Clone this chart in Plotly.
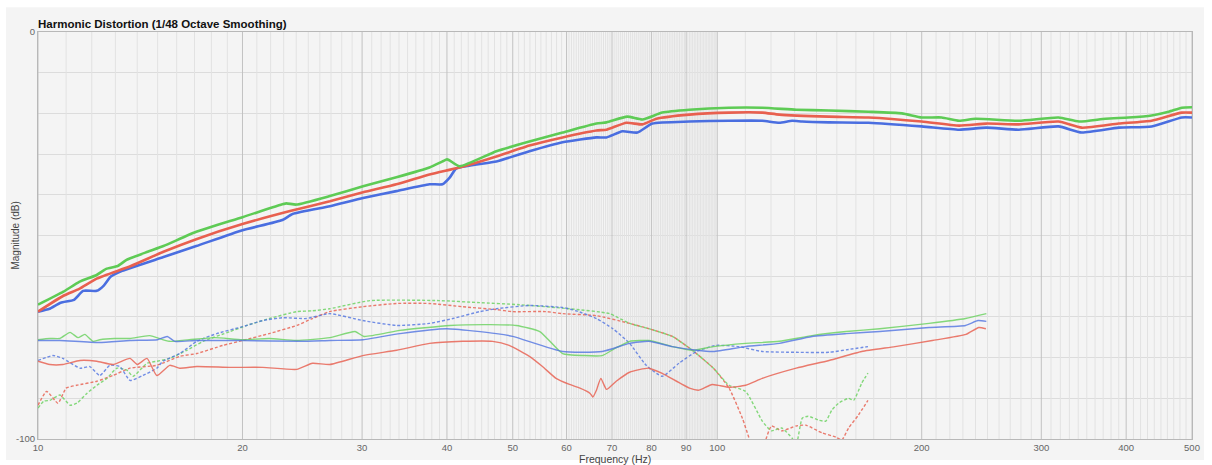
import plotly.graph_objects as go

# ---------------------------------------------------------------- data
chart_title = "Harmonic Distortion (1/48 Octave Smoothing)"
x_title = "Frequency (Hz)"
y_title = "Magnitude (dB)"
x_tick_vals = [10, 20, 30, 40, 50, 60, 70, 80, 90, 100, 200, 300, 400, 500]
x_tick_text = ["10", "20", "30", "40", "50", "60", "70", "80", "90", "100", "200", "300", "400", "500"]
y_tick_vals = [0, -10, -20, -30, -40, -50, -60, -70, -80, -90, -100]
y_tick_text = ["0", "", "", "", "", "", "", "", "", "", "-100"]

# Fundamentals (thick lines)
green_fund_hz = [10.0, 10.9, 11.5, 12.2, 12.6, 13.1, 13.5, 14.5, 15.3, 17.1, 20.0, 22.7, 23.2, 24.0, 26.9,
                 30.1, 33.7, 37.7, 39.4, 40.0, 40.4, 41.75, 47.3, 52.9, 59.2, 66.4, 68.7, 73.7, 77.6, 83.0,
                 91.0, 104, 116.5, 130.7, 146, 167, 187, 200, 214, 227, 240, 278, 318, 341, 373, 403,
                 436, 462, 483, 500]
green_fund_db = [-67.0, -63.8, -61.4, -59.7, -58.2, -57.5, -56.0, -54.0, -52.6, -49.1, -45.5, -42.5, -42.1, -42.4, -40.3,
                 -37.9, -35.7, -33.3, -31.8, -31.3, -31.6, -33.0, -29.3, -26.9, -24.7, -22.5, -22.2, -20.8, -21.5, -19.8,
                 -19.1, -18.6, -18.6, -19.1, -19.3, -19.6, -20.0, -21.0, -21.0, -21.8, -21.3, -21.8, -21.0, -22.0, -21.3, -21.0,
                 -20.5, -19.6, -18.6, -18.5]

red_fund_hz = [10.0, 10.9, 11.5, 12.2, 13.7, 15.3, 17.1, 20.0, 23.5, 26.9, 30.1, 33.7, 37.7, 40.0, 41.75,
               47.3, 52.9, 59.2, 66.4, 68.7, 73.5, 77.6, 81.4, 91.0, 104, 116.5, 123.4, 146, 167, 200,
               227, 249, 278, 318, 344, 390, 436, 483, 500]
red_fund_db = [-68.7, -64.8, -63.1, -60.6, -57.5, -54.0, -50.9, -47.2, -44.0, -41.6, -39.4, -37.4, -35.0, -34.0, -33.3,
               -30.6, -27.9, -25.9, -24.2, -24.0, -22.3, -22.7, -21.3, -20.3, -19.8, -19.8, -20.3, -20.8, -21.0, -22.0,
               -23.0, -22.5, -22.7, -22.0, -23.5, -22.5, -21.8, -19.8, -19.8]

blue_fund_hz = [10.0, 10.4, 10.8, 11.3, 11.65, 12.2, 12.5, 12.8, 13.3, 15.3, 17.1, 20.0, 22.9, 23.7, 26.9,
                30.1, 33.7, 37.7, 39.4, 40.4, 41.3, 47.3, 52.9, 59.2, 66.4, 68.7, 72.5, 76.3, 80.25, 91,
                104, 116.5, 123.4, 128.9, 133.4, 146, 167, 200, 227, 249, 278, 318, 344, 390, 436, 483, 500]
blue_fund_db = [-68.7, -68.0, -66.5, -65.8, -63.6, -63.6, -62.3, -60.1, -58.7, -55.3, -52.6, -48.7, -46.2, -44.7, -42.8,
                -40.8, -39.1, -37.4, -37.4, -35.7, -33.5, -31.8, -29.3, -27.1, -25.9, -25.9, -24.4, -24.7, -22.5, -22.0,
                -21.8, -21.8, -22.3, -21.8, -22.0, -22.2, -22.3, -23.2, -24.0, -23.5, -24.0, -23.2, -24.7, -23.5, -23.2,
                -21.0, -21.0]

# 2nd harmonic (thin solid)
green_h2_hz = [10.0, 10.41, 10.77, 11.15, 11.45, 11.72, 12.05, 12.33, 12.97, 13.66, 14.6, 15.6, 16.7, 18.2,
               20.0, 21.9, 24.0, 26.9, 29.3, 30.2, 34.1, 40.4, 46.3, 50.6, 54.8, 59.2, 63.7, 67.7, 70.6,
               74.3, 79.3, 85.9, 91.9, 98.7, 110.1, 123.4, 137.9, 154.9, 173.5, 205.0, 232, 249]
green_h2_db = [-75.6, -75.3, -75.3, -73.8, -75.1, -74.3, -76.0, -75.6, -75.3, -75.3, -74.6, -76.0, -75.6, -75.1,
               -75.6, -75.3, -75.8, -75.1, -73.6, -74.8, -73.3, -72.1, -71.9, -72.1, -73.6, -79.0, -79.5, -79.5, -77.8,
               -76.0, -75.8, -77.3, -78.2, -77.3, -76.5, -76.0, -74.6, -73.6, -72.9, -71.6, -70.4, -69.2]

blue_h2_hz = [10.0, 10.77, 12.3, 13.66, 15.0, 15.5, 15.9, 17.1, 20.0, 24.3, 26.9, 30.1, 34.1, 39.95, 47.3,
              50.0, 59.2, 67.7, 74.3, 79.3, 85.9, 93.2, 98.7, 110, 123.4, 137.9, 154.9, 173.5, 205, 232,
              242, 249]
blue_h2_db = [-75.8, -75.8, -76.3, -75.8, -75.6, -74.8, -76.0, -75.8, -75.8, -76.0, -75.8, -75.6, -74.1, -72.9, -74.1,
              -74.8, -78.5, -78.5, -76.5, -76.0, -77.3, -78.2, -78.5, -77.3, -76.5, -74.8, -74.1, -73.6, -72.6, -72.1,
              -70.9, -71.1]

red_h2_hz = [10.0, 10.41, 10.88, 11.53, 12.21, 12.89, 13.66, 14.0, 14.47, 14.96, 15.63, 16.17, 17.13, 19.17,
             21.43, 24.04, 25.35, 26.88, 30.06, 33.73, 37.71, 42.2, 46.7, 49.4, 52.9, 55.3, 57.9, 60.6, 62.8,
             65.0, 65.6, 66.4, 67.4, 68.7, 71.0, 74.3, 79.3, 83.0, 91.0, 94.0, 98.3, 104.1, 110.1, 116.5,
             130.7, 146.1, 163.2, 182.7, 207.3, 232.4, 242.7, 248.6]
red_h2_db = [-80.9, -81.7, -81.7, -80.7, -80.9, -81.7, -80.2, -81.7, -80.2, -84.4, -81.9, -82.6, -82.2, -82.4,
             -82.4, -82.9, -81.4, -81.7, -79.5, -78.2, -76.5, -76.0, -76.0, -77.0, -79.7, -82.2, -85.1, -86.6, -87.5,
             -88.8, -89.7, -88.0, -85.1, -87.8, -85.8, -83.6, -82.6, -83.9, -87.5, -88.0, -86.6, -87.3, -86.8, -85.1,
             -82.6, -80.7, -78.5, -77.3, -75.8, -74.3, -72.6, -72.9]

# 3rd harmonic (thin dashed)
blue_h3_hz = [10.0, 10.52, 10.88, 11.53, 11.92, 12.33, 12.76, 13.2, 13.66, 14.27, 14.96, 15.27, 16.17, 17.13,
              18.33, 20.0, 21.43, 22.93, 24.84, 26.88, 30.06, 33.73, 37.71, 40.8, 44.7, 47.3, 52.9, 59.2, 62.0,
              66.4, 70.2, 74.3, 78.6, 83.0, 87.8, 93.2, 99.6, 107.6, 116.5, 130.7, 146.1, 156.1, 166.7]
blue_h3_db = [-80.7, -79.5, -80.2, -82.6, -82.2, -84.4, -81.9, -82.2, -85.6, -84.4, -82.6, -80.9, -79.0, -76.0,
              -74.1, -72.4, -70.9, -70.2, -70.4, -69.2, -70.9, -72.1, -71.6, -70.4, -68.7, -68.0, -67.2, -67.7, -68.5,
              -70.4, -72.9, -76.5, -81.9, -84.6, -81.4, -78.5, -77.0, -77.3, -78.5, -78.7, -78.7, -78.0, -77.3]

green_h3_hz = [10.0, 10.2, 10.41, 10.77, 11.15, 11.41, 11.8, 12.21, 12.63, 13.07, 13.52, 13.8, 14.47, 14.96,
               15.63, 16.56, 17.5, 19.17, 20.3, 21.9, 24.04, 25.35, 26.88, 30.8, 39.0, 44.7, 51.1, 60.6, 69.4,
               74.3, 79.3, 85.9, 91.9, 98.7, 104.1, 110.1, 116.5, 120.2, 124.4, 128.9, 130.7, 133.4, 136.1,
               141.3, 144.5, 147.5, 150.9, 156.1, 158.8, 163.2, 166.7]
green_h3_db = [-92.4, -90.7, -90.5, -89.2, -91.7, -91.2, -88.8, -86.8, -85.1, -82.6, -83.1, -84.6, -81.4, -80.9,
               -80.2, -78.2, -76.0, -73.6, -72.1, -70.4, -68.7, -68.5, -68.0, -66.0, -66.0, -66.5, -67.0, -68.0, -69.2,
               -71.6, -72.9, -74.8, -78.2, -82.6, -86.8, -88.3, -95.6, -98.0, -97.3, -99.8, -101.5, -94.9, -94.4,
               -95.4, -95.6, -92.9, -91.2, -90.0, -90.5, -86.3, -83.8]

red_h3_hz = [10.0, 10.3, 10.7, 11.0, 11.4, 12.21, 12.89, 13.66, 14.96, 16.17, 17.13, 18.72, 20.0, 21.9,
             24.04, 25.35, 26.88, 30.06, 33.73, 37.71, 42.2, 47.3, 49.9, 55.9, 59.2, 66.4, 74.3, 79.3, 85.9,
             91.9, 98.7, 104.1, 108.9, 111.4, 114.0, 116.5, 117.9, 120.2, 124.4, 130.7, 135.0, 142.7, 149.4,
             152.6, 156.1, 161.4, 166.7]
red_h3_db = [-91.7, -88.3, -91.2, -87.5, -86.8, -85.8, -84.4, -82.6, -81.9, -79.7, -79.0, -77.0, -75.8, -74.1,
             -72.1, -70.4, -68.7, -67.5, -66.7, -66.7, -67.5, -68.2, -68.7, -68.7, -69.2, -69.7, -71.6, -72.9, -74.8,
             -78.2, -82.6, -87.5, -94.9, -99.8, -104.6, -104.6, -100.2, -96.8, -98.0, -96.8, -96.6, -98.5, -99.5,
             -100.2, -97.3, -94.1, -90.5]

# ---------------------------------------------------------------- style
GREEN = "#5ecb55"
RED = "#e8604f"
BLUE = "#4a6ee0"
GREEN_T = "rgba(110,210,100,0.85)"
RED_T = "rgba(232,100,85,0.85)"
BLUE_T = "rgba(80,115,225,0.8)"
MINOR_GRID = "#e2e2e2"
MAJOR_GRID = "#c2c2c2"
PANEL = "#f4f4f4"
FONT = "Liberation Sans, Arial, sans-serif"

fig = go.Figure()

# vertical frequency grid: every 1 Hz up to 60 Hz, 0.5 Hz up to 100 Hz, 10 Hz above
minor_pos = []
f = 11
while f < 60:
    if f % 10:
        minor_pos.append(f)
    f += 1
f2 = 60.5
while f2 < 100:
    if f2 % 10:
        minor_pos.append(f2)
    f2 += 0.5
for f3 in range(110, 500, 10):
    if f3 % 100:
        minor_pos.append(f3)


def grid_trace(positions, color):
    xs, ys = [], []
    for p in positions:
        xs += [p, p, None]
        ys += [-100, 0, None]
    return go.Scatter(x=xs, y=ys, mode="lines", line=dict(color=color, width=1),
                      hoverinfo="skip", showlegend=False)


fig.add_trace(grid_trace(minor_pos, MINOR_GRID))
fig.add_trace(grid_trace(x_tick_vals, MAJOR_GRID))


def curve(xs, ys, color, width, dash=None):
    line = dict(color=color, width=width, shape="spline", smoothing=0.5)
    if dash:
        line["dash"] = dash
    return go.Scatter(x=xs, y=ys, mode="lines", line=line, hoverinfo="skip", showlegend=False)


# 3rd harmonic (dashed)
fig.add_trace(curve(red_h3_hz, red_h3_db, RED_T, 1.4, "3px,2px"))
fig.add_trace(curve(green_h3_hz, green_h3_db, GREEN_T, 1.4, "3px,2px"))
fig.add_trace(curve(blue_h3_hz, blue_h3_db, BLUE_T, 1.4, "3px,2px"))
# 2nd harmonic (solid)
fig.add_trace(curve(red_h2_hz, red_h2_db, RED_T, 1.4))
fig.add_trace(curve(green_h2_hz, green_h2_db, GREEN_T, 1.4))
fig.add_trace(curve(blue_h2_hz, blue_h2_db, BLUE_T, 1.4))
# fundamentals
fig.add_trace(curve(blue_fund_hz, blue_fund_db, BLUE, 2.6))
fig.add_trace(curve(red_fund_hz, red_fund_db, RED, 2.6))
fig.add_trace(curve(green_fund_hz, green_fund_db, GREEN, 2.6))

# light panel behind the whole chart, inset from the page edge
fig.add_shape(type="rect", xref="paper", yref="paper", layer="below",
              x0=-0.0277, x1=1.0104, y0=-0.0513, y1=1.0611,
              fillcolor=PANEL, line=dict(width=0))

fig.update_layout(
    width=1212, height=465,
    margin=dict(l=38, r=18, t=32, b=24),
    paper_bgcolor="white",
    plot_bgcolor=PANEL,
    font=dict(family=FONT, color="#555555", size=9),
    showlegend=False,
    xaxis=dict(type="log", range=[1, 2.69897], tickvals=x_tick_vals, ticktext=x_tick_text,
               showgrid=False, zeroline=False, ticks="", showline=True, mirror=True,
               linecolor="#b8b8b8", linewidth=1, tickfont=dict(size=9.5, color="#666666")),
    yaxis=dict(range=[-100, 0], tickvals=y_tick_vals, ticktext=y_tick_text,
               showgrid=True, gridcolor="#dcdcdc", gridwidth=1, zeroline=False, ticks="",
               showline=True, mirror=True, linecolor="#b8b8b8", linewidth=1,
               tickfont=dict(size=9.5, color="#666666")),
    annotations=[
        dict(text="<b>" + chart_title + "</b>", xref="paper", yref="paper", x=0, y=1,
             xanchor="left", yanchor="bottom", showarrow=False, xshift=-2,
             font=dict(size=11.5, color="#111111", family=FONT)),
        dict(text=x_title, xref="paper", yref="paper", x=0.5, y=0, xanchor="center",
             yanchor="top", yshift=-12, showarrow=False,
             font=dict(size=10.5, color="#444444", family=FONT)),
        dict(text=y_title, xref="paper", yref="paper", x=-0.0199, y=0.5, xanchor="center",
             yanchor="middle", textangle=-90, showarrow=False,
             font=dict(size=10, color="#444444", family=FONT)),
    ],
)

fig.write_html("out.html")
